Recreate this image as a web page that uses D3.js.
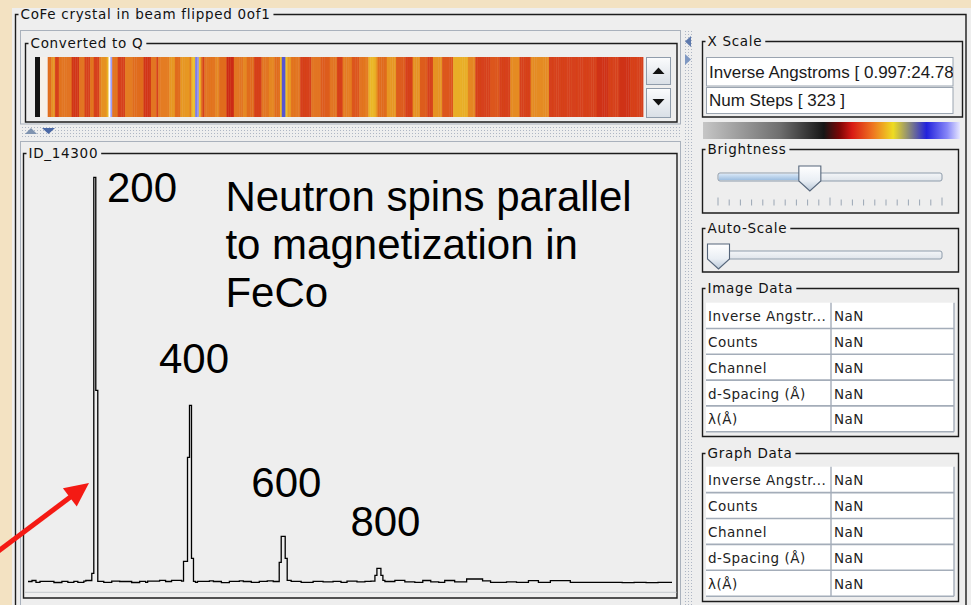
<!DOCTYPE html>
<html>
<head>
<meta charset="utf-8">
<script src="https://cdn.jsdelivr.net/npm/d3@7/dist/d3.min.js"></script>
<style>
html,body{margin:0;padding:0;background:#f3e2c2;}
svg{display:block}
.ui{font-family:"DejaVu Sans",sans-serif;font-size:13.5px;letter-spacing:0.7px;fill:#111}
.cell{font-family:"DejaVu Sans",sans-serif;font-size:13.5px;letter-spacing:0.5px;fill:#222}
.field{font-family:"Liberation Sans",Arial,sans-serif;font-size:17px;fill:#1a1a1a}
.note{font-family:"Liberation Sans",Arial,sans-serif;font-size:42px;fill:#000}
</style>
</head>
<body>
<svg id="c" width="971" height="605"></svg>
<script>
// ---- data ---------------------------------------------------------------
const runTitle   = "CoFe crystal in beam flipped 0of1";
const stripTitle = "Converted to Q";
const plotTitle  = "ID_14300";
const qRange     = [0.997, 24.78];
const numSteps   = 323;

// histogram: channel where a level begins, and the counts held from there
const stepChannel = [0, 2, 4, 6, 13, 17, 20, 23, 25, 28, 29, 32, 33, 34, 35, 38, 42, 46,
  52, 56, 59, 60, 66, 69, 72, 77, 78, 80, 81, 82, 83, 84, 85, 91, 93, 97, 101, 106, 108,
  112, 116, 120, 123, 126, 127, 129, 130, 132, 137, 143, 148, 153, 157, 160, 165, 169,
  172, 174, 175, 177, 178, 179, 184, 189, 194, 198, 202, 206, 209, 214, 220, 228, 232,
  240, 245, 251, 256, 262, 272, 298, 304, 310, 316, 323];
const stepCounts = [108, 118, 100, 110, 98, 110, 100, 110, 100, 112, 118, 190, 4150, 2020, 110, 100, 112, 108,
  98, 110, 100, 112, 120, 108, 120, 112, 310, 1350, 1870, 340, 110, 100, 110, 115, 108, 96, 110, 115, 108,
  100, 110, 115, 108, 300, 560, 340, 120, 110, 100, 110, 105, 110, 100, 112, 104, 110,
  112, 170, 240, 170, 120, 108, 120, 105, 100, 118, 105, 100, 118, 104, 133, 115, 100,
  104, 100, 116, 100, 116, 100, 97, 100, 97, 100, 100];

// reflection labels
const peakLabels = ["200", "400", "600", "800"];
const noteLines  = ["Neutron spins parallel", "to magnetization in", "FeCo"];

// side panel contents
const xScaleFields = ["Inverse Angstroms [ 0.997:24.78 ]", "Num Steps [ 323 ]"];
const dataRowNames = ["Inverse Angstr...", "Counts", "Channel", "d-Spacing (\u00C5)", "\u03BB(\u00C5)"];
const imageDataValues = ["NaN", "NaN", "NaN", "NaN", "NaN"];
const graphDataValues = ["NaN", "NaN", "NaN", "NaN", "NaN"];
const brightness = 41;   // slider value, 0..100
const autoScale  = 0;    // slider value, 0..100
const brightnessTicks = d3.range(0, 101, 5);

// ---- layout -------------------------------------------------------------
const W = 971, H = 605;
const PANEL = "#eeeeee", LINE = "#1c1c1c", SOFT = "#a9b1bc";
const plot = {x0: 28, x1: 672, yBase: 592.3, yTop: 172.3};
const strip = {x0: 47.7, x1: 643, y0: 57, y1: 117};
const labelAnchor = [[39.6, 3900], [65.7, 2190], [112, 955], [161.7, 567]]; // [channel, counts]
const noteAnchor = {ch: 99, counts: 3812, lineGap: 47.8};

const svg = d3.select("#c");
const defs = svg.append("defs");

// dotted splitter texture
const dots = defs.append("pattern").attr("id", "dots").attr("patternUnits", "userSpaceOnUse")
  .attr("width", 3).attr("height", 3);
dots.append("rect").attr("x", 1).attr("y", 1).attr("width", 1).attr("height", 1).attr("fill", "#aeb6c4");

function vGrad(id, stops) {
  const g = defs.append("linearGradient").attr("id", id).attr("x1", 0).attr("x2", 0).attr("y1", 0).attr("y2", 1);
  stops.forEach(([o, c]) => g.append("stop").attr("offset", o).attr("stop-color", c));
}
vGrad("btn", [[0, "#fbfcfd"], [1, "#d9dfe6"]]);
vGrad("thumb", [[0, "#ffffff"], [0.6, "#e9eef4"], [1, "#b9c8d8"]]);
vGrad("fill", [[0, "#d6e6f6"], [1, "#9fbfe0"]]);
vGrad("track", [[0, "#f4f6f8"], [1, "#dfe4ea"]]);

// slight softening of the strip image
defs.append("filter").attr("id", "soft").attr("x", -0.01).attr("width", 1.02)
  .append("feGaussianBlur").attr("stdDeviation", "0.7 0");

// colour bar stops
const cmapStops  = [0, 0.3, 0.47, 0.53, 0.58, 0.66, 0.74, 0.8, 0.87, 0.95, 1];
const cmapColors = ["#c6c6c6", "#6e6e6e", "#161616", "#7a0606", "#d81a14", "#ee7420", "#eedc22", "#8c8c78", "#2222dc", "#8686f8", "#e6e6ff"];
const cbar = defs.append("linearGradient").attr("id", "cbar");
cmapStops.forEach((o, i) => cbar.append("stop").attr("offset", o).attr("stop-color", cmapColors[i]));

// counts -> colour for the converted strip
const stripColor = d3.scaleLinear()
  .domain([0, 96, 100, 104, 108, 112, 118, 130, 400, 560, 1900, 4150])
  .range(["#000000", "#cc2c14", "#d6401a", "#dc561c", "#e06c1e", "#e47c21", "#e69223", "#e9ae26", "#edc42c", "#5454d2", "#9a9af2", "#ffffff"])
  .clamp(true);

// ---- background ---------------------------------------------------------
svg.append("rect").attr("width", W).attr("height", H).attr("fill", "#f3e2c2");
svg.append("rect").attr("x", 12).attr("y", 8).attr("width", W - 12).attr("height", H - 8).attr("fill", PANEL);

function titledBox(x, y, w, h, title, color = LINE, width = 1.4) {
  const g = svg.append("g");
  const t = g.append("text").attr("class", "ui").attr("x", x + 5).attr("y", y + 4.8).text(title);
  const tw = t.node().getComputedTextLength();
  g.insert("path", "text")
    .attr("d", `M${x + 3},${y}H${x}V${y + h}H${x + w}V${y}H${x + 8 + tw}`)
    .attr("fill", "none").attr("stroke", color).attr("stroke-width", width);
  return g;
}

// outer run panel
titledBox(15.5, 14.5, 950.5, 600, runTitle);

// ---- converted-to-Q strip ----------------------------------------------
svg.append("rect").attr("x", 20.5).attr("y", 30.5).attr("width", 660).attr("height", 93.5)
  .attr("fill", "none").attr("stroke", SOFT).attr("stroke-width", 1);
titledBox(25.5, 43.5, 651.5, 78.5, stripTitle);

// counts in every channel, looked up from the histogram steps
const channelCounts = d3.range(numSteps).map(i => stepCounts[d3.bisectRight(stepChannel, i) - 1]);
const sx = d3.scaleLinear().domain([0, numSteps]).range([strip.x0, strip.x1]);
svg.append("rect").attr("x", 35).attr("y", strip.y0).attr("width", 5).attr("height", strip.y1 - strip.y0).attr("fill", "#151515");
svg.append("rect").attr("x", 40).attr("y", strip.y0).attr("width", 7.7).attr("height", strip.y1 - strip.y0).attr("fill", "#f6f0ea");
svg.append("g").attr("filter", "url(#soft)").selectAll("rect").data(channelCounts).join("rect")
  .attr("x", (d, i) => sx(i)).attr("width", (d, i) => sx(i + 1) - sx(i) + 0.4)
  .attr("y", strip.y0).attr("height", strip.y1 - strip.y0)
  .attr("fill", d => stripColor(d));

// scroll buttons beside the strip
[[57, 27, "up"], [88, 29, "down"]].forEach(([y, h, dir]) => {
  svg.append("rect").attr("x", 646.5).attr("y", y + 0.5).attr("width", 24).attr("height", h)
    .attr("fill", "url(#btn)").attr("stroke", "#8f9cab");
  const cy = y + h / 2;
  const pts = dir === "up"
    ? [[652.5, cy + 3.5], [664.5, cy + 3.5], [658.5, cy - 3]]
    : [[652.5, cy - 3.5], [664.5, cy - 3.5], [658.5, cy + 3]];
  svg.append("polygon").attr("points", pts.map(p => p.join(",")).join(" ")).attr("fill", "#111");
});

// horizontal splitter
svg.append("rect").attr("x", 20).attr("y", 127).attr("width", 661).attr("height", 11).attr("fill", "url(#dots)");
svg.append("polygon").attr("points", "25,134 37,134 31,128").attr("fill", "#7f93b0");
svg.append("polygon").attr("points", "42,128 55,128 48.5,134").attr("fill", "#4a68a6");

// vertical splitter
svg.append("rect").attr("x", 684).attr("y", 30).attr("width", 9).attr("height", 575).attr("fill", "url(#dots)");
svg.append("polygon").attr("points", "691,36 691,47 685,41.5").attr("fill", "#5d79ad");
svg.append("polygon").attr("points", "685,54 685,65 691,59.5").attr("fill", "#7f98c2");

// ---- spectrum plot ------------------------------------------------------
svg.append("rect").attr("x", 20.5).attr("y", 141.5).attr("width", 660).attr("height", 470)
  .attr("fill", "none").attr("stroke", SOFT).attr("stroke-width", 1);
titledBox(23.5, 153.5, 653.5, 444.5, plotTitle);

const x = d3.scaleLinear().domain([0, numSteps]).range([plot.x0, plot.x1]);
const y = d3.scaleLinear().domain([0, 4200]).range([plot.yBase, plot.yTop]);

svg.append("line").attr("x1", 24.5).attr("x2", 676.5).attr("y1", y(0)).attr("y2", y(0))
  .attr("stroke", "#c4c8cc").attr("stroke-width", 1);

const steps = stepChannel.map((c, i) => ({ch: c, counts: stepCounts[i]}));
svg.append("path").datum(steps)
  .attr("d", d3.line().x(d => x(d.ch)).y(d => y(d.counts)).curve(d3.curveStepAfter))
  .attr("fill", "none").attr("stroke", "#000").attr("stroke-width", 1.3);

svg.append("g").selectAll("text").data(peakLabels).join("text")
  .attr("class", "note")
  .attr("x", (d, i) => x(labelAnchor[i][0]))
  .attr("y", (d, i) => y(labelAnchor[i][1]))
  .text(d => d);

svg.append("g").selectAll("text").data(noteLines).join("text")
  .attr("class", "note")
  .attr("x", x(noteAnchor.ch))
  .attr("y", (d, i) => y(noteAnchor.counts) + i * noteAnchor.lineGap)
  .text(d => d);

// red pointer toward the 200 reflection
(function () {
  const s = [-20, 565], tip = [89, 483];
  const len = Math.hypot(tip[0] - s[0], tip[1] - s[1]);
  const u = [(tip[0] - s[0]) / len, (tip[1] - s[1]) / len], n = [-u[1], u[0]];
  const hl = 24, hw = 11.5;
  const b = [tip[0] - hl * u[0], tip[1] - hl * u[1]];
  svg.append("line").attr("x1", s[0]).attr("y1", s[1]).attr("x2", b[0] + 2 * u[0]).attr("y2", b[1] + 2 * u[1])
    .attr("stroke", "#f41a14").attr("stroke-width", 5);
  svg.append("polygon").attr("fill", "#f41a14")
    .attr("points", [tip, [b[0] + hw * n[0], b[1] + hw * n[1]], [b[0] - hw * n[0], b[1] - hw * n[1]]].map(p => p.join(",")).join(" "));
})();

// ---- side panel ---------------------------------------------------------
titledBox(702.5, 41.5, 260, 75.5, "X Scale");
xScaleFields.forEach((txt, i) => {
  const fy = [57.5, 87.5][i], fh = [28.5, 26][i];
  const clipId = "fc" + i;
  defs.append("clipPath").attr("id", clipId).append("rect").attr("x", 707).attr("y", fy).attr("width", 246).attr("height", fh);
  svg.append("rect").attr("x", 706.5).attr("y", fy).attr("width", 246.5).attr("height", fh)
    .attr("fill", "#fff").attr("stroke", "#9aa4b0");
  svg.append("text").attr("class", "field").attr("x", 709).attr("y", fy + fh - 8)
    .attr("clip-path", `url(#${clipId})`).text(txt);
});

// colour bar
svg.append("rect").attr("x", 703).attr("y", 122).attr("width", 257).attr("height", 17).attr("fill", "url(#cbar)");

// sliders
function slider(boxY, boxH, title, value, withTicks) {
  titledBox(702.5, boxY, 256, boxH, title);
  const sv = d3.scaleLinear().domain([0, 100]).range([718, 942]);
  const ty = withTicks ? boxY + 23.5 : boxY + 22.5;
  svg.append("rect").attr("x", sv(0)).attr("y", ty).attr("width", sv(100) - sv(0)).attr("height", 8).attr("rx", 2)
    .attr("fill", "url(#track)").attr("stroke", "#8e9cab");
  if (value > 0) svg.append("rect").attr("x", sv(0) + 1).attr("y", ty + 1).attr("width", sv(value) - sv(0)).attr("height", 6)
    .attr("fill", "url(#fill)");
  const cx = Math.max(sv(value), 718.5), top = ty - 7;
  const tx = withTicks ? cx : 718.5;
  svg.append("path")
    .attr("d", `M${tx - 11},${top}H${tx + 11}V${top + 15}L${tx},${top + 25}L${tx - 11},${top + 15}Z`)
    .attr("fill", "url(#thumb)").attr("stroke", "#55657a").attr("stroke-width", 1.1);
  if (withTicks) {
    svg.append("g").selectAll("line").data(brightnessTicks).join("line")
      .attr("x1", d => sv(d)).attr("x2", d => sv(d))
      .attr("y1", (d, i) => i % 10 === 0 ? boxY + 48 : boxY + 50)
      .attr("y2", boxY + 56)
      .attr("stroke", "#9aa6b4").attr("stroke-width", 1);
  }
}
slider(149.5, 63.5, "Brightness", brightness, true);
slider(228.5, 43.5, "Auto-Scale", autoScale, false);

// read-out tables
function table(boxY, boxH, title, top, rowH, values) {
  titledBox(702.5, boxY, 256, boxH, title);
  const g = svg.append("g");
  const ry = d3.scaleLinear().domain([0, dataRowNames.length]).range([top, top + rowH * dataRowNames.length]);
  g.append("rect").attr("x", 706).attr("y", top).attr("width", 248).attr("height", ry(dataRowNames.length) - top).attr("fill", "#fff");
  g.selectAll("line.row").data(dataRowNames).join("line").attr("class", "row")
    .attr("x1", 706).attr("x2", 954).attr("y1", (d, i) => ry(i + 1)).attr("y2", (d, i) => ry(i + 1))
    .attr("stroke", "#a4adb9").attr("stroke-width", 1.6);
  g.append("line").attr("x1", 831).attr("x2", 831).attr("y1", top).attr("y2", ry(dataRowNames.length))
    .attr("stroke", "#a4adb9").attr("stroke-width", 1.4);
  g.append("line").attr("x1", 954).attr("x2", 954).attr("y1", top).attr("y2", ry(dataRowNames.length))
    .attr("stroke", "#a4adb9").attr("stroke-width", 1.4);
  g.selectAll("text.k").data(dataRowNames).join("text").attr("class", "cell k")
    .attr("x", 708).attr("y", (d, i) => ry(i) + 18.5).text(d => d);
  g.selectAll("text.v").data(values).join("text").attr("class", "cell v")
    .attr("x", 834).attr("y", (d, i) => ry(i) + 18.5).text(d => d);
}
table(288.5, 148, "Image Data", 302.7, 25.8, imageDataValues);
table(453.5, 148, "Graph Data", 466.7, 25.9, graphDataValues);
</script>
</body>
</html>
